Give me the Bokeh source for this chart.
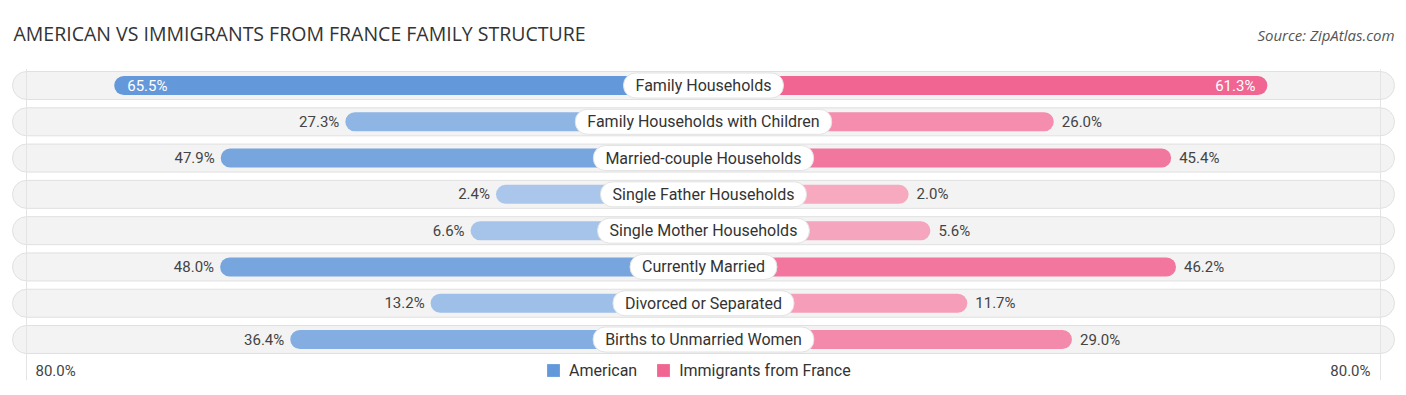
from bokeh.plotting import figure
from bokeh.models import Range1d, ColumnDataSource, Legend, LegendItem, Label
from bokeh.core.properties import value
from bokeh.embed import file_html
from bokeh.resources import INLINE

title = "AMERICAN VS IMMIGRANTS FROM FRANCE FAMILY STRUCTURE"
source_text = "Source: ZipAtlas.com"
categories = ["Family Households", "Family Households with Children",
              "Married-couple Households", "Single Father Households",
              "Single Mother Households", "Currently Married",
              "Divorced or Separated", "Births to Unmarried Women"]
american = [65.5, 27.3, 47.9, 2.4, 6.6, 48.0, 13.2, 36.4]
france = [61.3, 26.0, 45.4, 2.0, 5.6, 46.2, 11.7, 29.0]
series_names = ["American", "Immigrants from France"]
axis_max = 80.0
axis_label = "80.0%"

# ---- layout / style ----
W, H = 1400, 387
CX = 703               # centre of the chart, px from left
PX = 6.05              # pixels per percentage unit
OFFSET = 193 / PX      # space reserved at the centre for the category label
ROW = 36.29            # pixels per row
ROW0 = 85              # first row centre, px from top
y_top = -ROW0 / ROW
y_bot = (H - ROW0) / ROW

FONT = "Roboto"


def mix(c1, c2, t):
    a = [int(c1[i:i + 2], 16) for i in (1, 3, 5)]
    b = [int(c2[i:i + 2], 16) for i in (1, 3, 5)]
    return "#" + "".join("%02x" % round(x + (y - x) * t) for x, y in zip(a, b))


blue_light, blue_dark = "#adc9ec", "#6399da"
pink_light, pink_dark = "#f7abc2", "#f06592"
amax, fmax = max(american), max(france)
n = len(categories)
ys = list(range(n))

a_col = [mix(blue_light, blue_dark, v / amax) for v in american]
f_col = [mix(pink_light, pink_dark, v / fmax) for v in france]

src = ColumnDataSource(dict(
    y=ys, cat=categories,
    a_left=[-(OFFSET + v) for v in american], zero=[0] * n,
    f_right=[OFFSET + v for v in france],
    a_col=a_col, f_col=f_col,
))

p = figure(width=W, height=H, output_backend="svg", toolbar_location=None,
           x_range=Range1d(-CX / PX, (W - CX) / PX), y_range=Range1d(y_bot, y_top),
           x_axis_location=None, y_axis_location=None,
           min_border=0, min_border_left=0, min_border_right=0,
           min_border_top=0, min_border_bottom=0)
p.xgrid.visible = False
p.ygrid.visible = False
p.outline_line_color = None
p.background_fill_color = "white"
p.border_fill_color = "white"

# background rows
bg_half = (CX - 12) / PX
p.hbar(y=ys, left=-bg_half, right=bg_half, height=28 / ROW,
       fill_color="#f3f3f3", line_color="#e0e0e0", line_width=1,
       border_radius=14)

# faint gridlines at +-80%
gx = OFFSET + axis_max
p.segment(x0=[-gx, gx], x1=[-gx, gx], y0=[-0.45, -0.45], y1=[y_bot - 0.2, y_bot - 0.2],
          line_color="#e4e4e4", line_width=1)

# bars
ra = p.hbar(y="y", left="a_left", right="zero", height=19 / ROW, source=src,
            fill_color="a_col", line_color=None, border_radius=(10, 0, 0, 10))
rf = p.hbar(y="y", left="zero", right="f_right", height=19 / ROW, source=src,
            fill_color="f_col", line_color=None, border_radius=(0, 10, 10, 0))

# value labels
VSIZE = "15px"
for i in range(n):
    va, vf = american[i], france[i]
    xa = -(OFFSET + va)
    xf = OFFSET + vf
    if va == amax:
        p.text(x=[xa + 13 / PX], y=[i], text=["%.1f%%" % va], text_align="left",
               text_baseline="middle", text_color="white",
               text_font=value(FONT), text_font_size=VSIZE)
    else:
        p.text(x=[xa - 6 / PX], y=[i], text=["%.1f%%" % va], text_align="right",
               text_baseline="middle", text_color="#444444",
               text_font=value(FONT), text_font_size=VSIZE)
    if vf == fmax:
        p.text(x=[xf - 12 / PX], y=[i], text=["%.1f%%" % vf], text_align="right",
               text_baseline="middle", text_color="white",
               text_font=value(FONT), text_font_size=VSIZE)
    else:
        p.text(x=[xf + 8 / PX], y=[i], text=["%.1f%%" % vf], text_align="left",
               text_baseline="middle", text_color="#444444",
               text_font=value(FONT), text_font_size=VSIZE)

# category labels
p.text(x="zero", y="y", text="cat", source=src, text_align="center",
       text_baseline="middle", text_color="#333333",
       text_font=value(FONT), text_font_size="16px",
       background_fill_color="white", border_line_color="#e2e2e2",
       padding=dict(left=12, right=12, top=3, bottom=3), border_radius=12)

# title and source
p.add_layout(Label(x=13, y=H - 33, x_units="screen", y_units="screen", text=title,
                   text_font="Open Sans", text_font_size="19.5px", text_color="#333333",
                   text_baseline="middle", text_align="left"))
p.add_layout(Label(x=1394, y=H - 34, x_units="screen", y_units="screen", text=source_text,
                   text_font="Open Sans", text_font_size="15px", text_font_style="italic",
                   text_color="#555555", text_baseline="middle", text_align="right"))

# axis end labels
p.add_layout(Label(x=-gx, x_offset=9, y=H - 370, y_units="screen", text=axis_label,
                   text_font=FONT, text_font_size="15px", text_color="#444444",
                   text_baseline="middle", text_align="left"))
p.add_layout(Label(x=gx, x_offset=-10, y=H - 370, y_units="screen", text=axis_label,
                   text_font=FONT, text_font_size="15px", text_color="#444444",
                   text_baseline="middle", text_align="right"))

legend = Legend(items=[LegendItem(label=series_names[0], renderers=[ra], index=0),
                       LegendItem(label=series_names[1], renderers=[rf], index=0)],
                orientation="horizontal", location=(545, H - 380),
                glyph_width=16, glyph_height=16, label_standoff=8, spacing=18,
                label_height=20, padding=0, margin=0,
                border_line_alpha=0, background_fill_alpha=0,
                label_text_font=FONT, label_text_font_size="16px",
                label_text_color="#333333")
p.add_layout(legend)

open("out.html", "w").write(file_html(p, INLINE))
